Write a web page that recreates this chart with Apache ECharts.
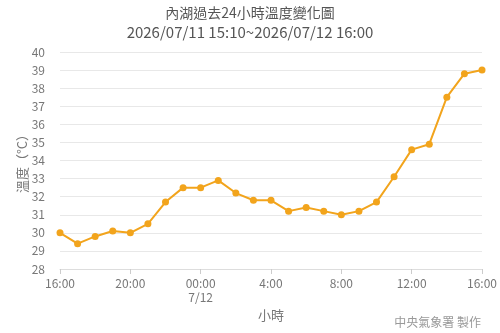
<!DOCTYPE html>
<html><head><meta charset="utf-8">
<script src="https://cdn.jsdelivr.net/npm/echarts@6/dist/echarts.min.js"></script>
<style>html,body{margin:0;padding:0;background:#fff}#c{width:500px;height:333px}</style>
</head><body><div id="c"></div>
<script>
const hours = ['16:00','17:00','18:00','19:00','20:00','21:00','22:00','23:00','00:00','01:00','02:00','03:00','04:00','05:00','06:00','07:00','08:00','09:00','10:00','11:00','12:00','13:00','14:00','15:00','16:00'];
const temps = [30.0,29.4,29.8,30.1,30.0,30.5,31.7,32.5,32.5,32.9,32.2,31.8,31.8,31.2,31.4,31.2,31.0,31.2,31.7,33.1,34.6,34.9,37.5,38.8,39.0];
const tickLabels = {0:'16:00',4:'20:00',8:'00:00\n7/12',12:'4:00',16:'8:00',20:'12:00',24:'16:00'};
const titleText = '內湖過去24小時溫度變化圖';
const subText = '2026/07/11 15:10~2026/07/12 16:00';
const yName = '溫度（°C）';
const xName = '小時';
const credit = '中央氣象署 製作';
const FONT = 'Noto Sans CJK TC';
const chart = echarts.init(document.getElementById('c'));
chart.setOption({
  animation:false,
  textStyle:{fontFamily:FONT},
  title:[
    {text:titleText,left:'center',top:1,textStyle:{fontSize:14,fontWeight:'normal',color:'#555',fontFamily:FONT}},
    {text:subText,left:'center',top:20,textStyle:{fontSize:15,fontWeight:'normal',color:'#555',fontFamily:FONT}},
    {text:credit,right:14,bottom:0,textStyle:{fontSize:12,fontWeight:'normal',color:'#999',fontFamily:FONT}}
  ],
  grid:{left:60,right:13,top:52,bottom:64},
  xAxis:{
    type:'category',data:hours,boundaryGap:false,
    name:xName,nameLocation:'middle',nameGap:35,
    nameTextStyle:{color:'#777',fontSize:13,fontFamily:FONT},
    axisLine:{lineStyle:{color:'#ddd'}},
    axisTick:{interval:(i)=>i%4===0,length:5,lineStyle:{color:'#ccc'}},
    axisLabel:{interval:(i)=>i%4===0,formatter:(v,i)=>tickLabels[i]||'',color:'#777',fontSize:12,lineHeight:14,margin:7,fontFamily:FONT}
  },
  yAxis:{
    type:'value',min:28,max:40,interval:1,
    name:yName,nameLocation:'middle',nameGap:31,nameRotate:90,nameMoveOverlap:false,
    nameTextStyle:{color:'#777',fontSize:13,fontFamily:FONT},
    axisLine:{show:false},axisTick:{show:false},
    axisLabel:{color:'#777',fontSize:12,margin:15,fontFamily:FONT},
    splitLine:{lineStyle:{color:'#e8e8e8'}}
  },
  series:[{
    type:'line',data:temps,symbol:'circle',symbolSize:7,
    lineStyle:{color:'#f2a41c',width:2},
    itemStyle:{color:'#f2a41c'}
  }]
});
</script></body></html>
